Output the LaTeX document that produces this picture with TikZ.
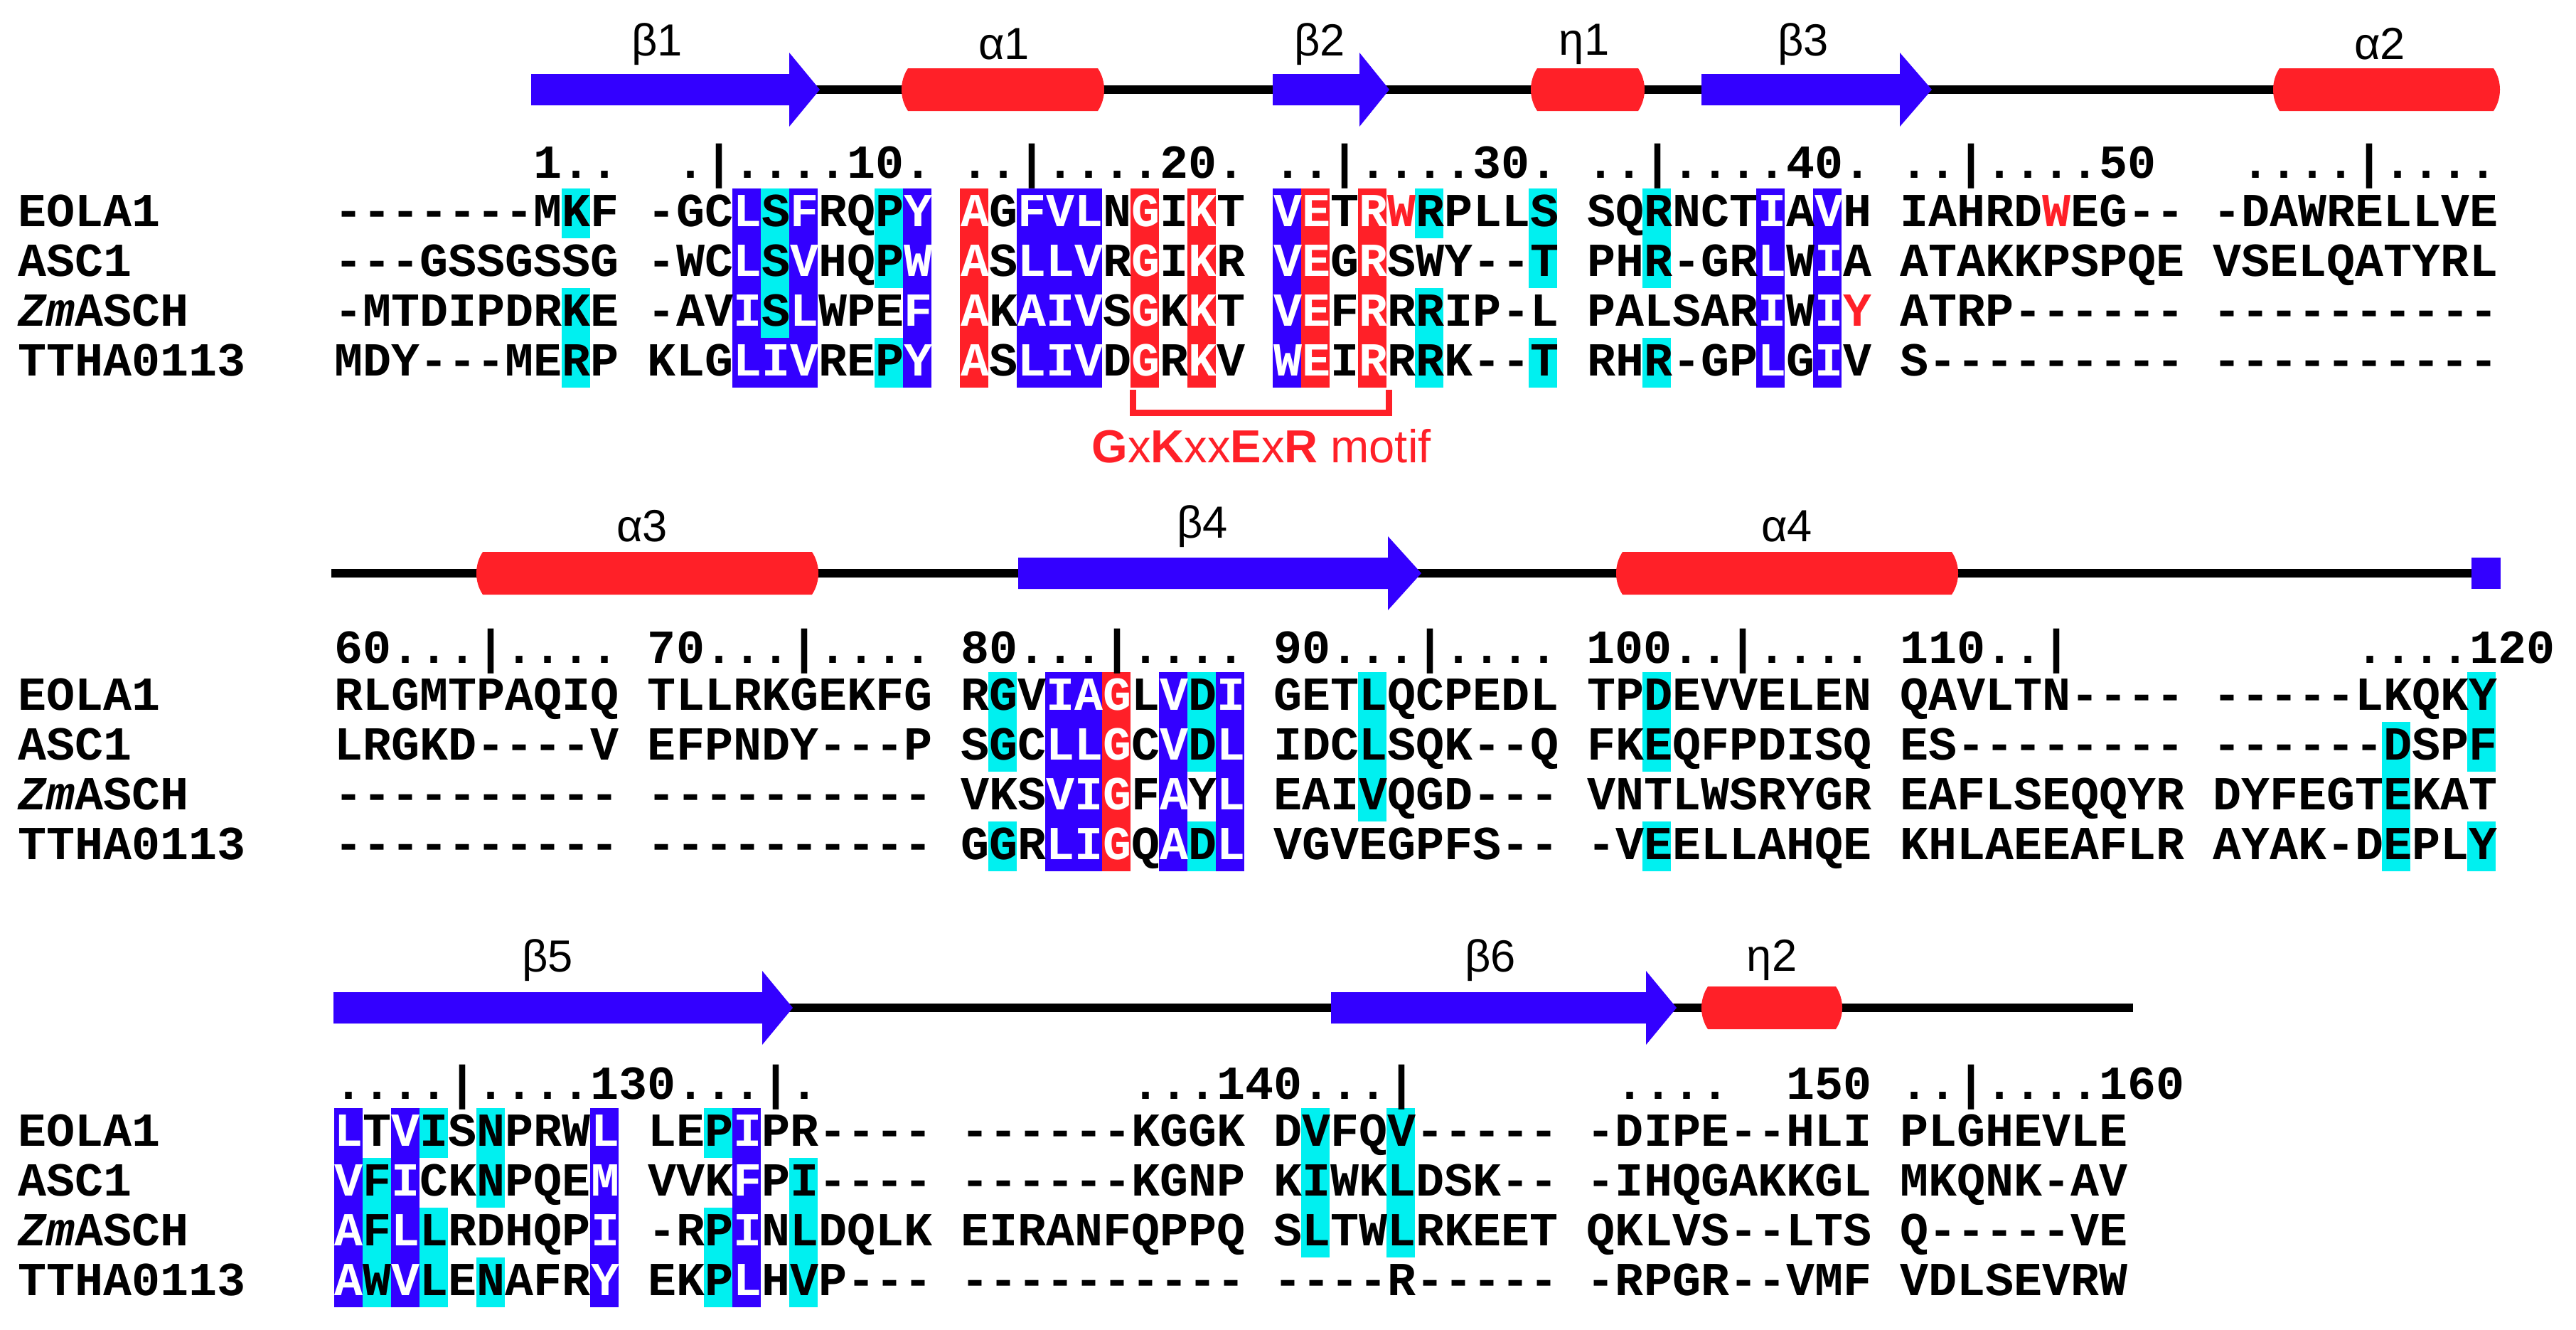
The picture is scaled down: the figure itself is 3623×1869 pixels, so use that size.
\documentclass[tikz,border=0pt]{standalone}
\usepackage{fontspec}
\setmainfont{Liberation Sans}
\newfontfamily\seqfont{Liberation Mono}[BoldFont={Liberation Mono Bold},BoldItalicFont={Liberation Mono Bold Italic}]
\definecolor{sblue}{RGB}{51,0,255}
\definecolor{sred}{RGB}{255,32,40}
\definecolor{scyan}{RGB}{0,240,240}
\newcommand\w[1]{\textcolor{white}{#1}}
\newcommand\rr[1]{\textcolor{sred}{#1}}
\newcommand\s{\hphantom{0}}
% box: col, row from, row to, colour, section centre
\newcommand\bx[5]{\fill[#4] ({470+#1*40},{#5+(#2)*70-35}) rectangle ({510+#1*40},{#5+(#3)*70+35});}
\newcommand\strand[5]{\fill[sblue] (#1,#4-22) -- (#2,#4-22) -- (#2,#4-52) -- (#3,#4) -- (#2,#4+52) -- (#2,#4+22) -- (#1,#4+22) -- cycle;
  \coordinate (#5) at ({(#1+#3)/2},#4);}
\newcommand\helix[3]{\fill[sred] (#1+8,#3-30) -- (#2-8,#3-30) .. controls (#2+4,#3-12) and (#2+4,#3+12) .. (#2-8,#3+30) -- (#1+8,#3+30) .. controls (#1-4,#3+12) and (#1-4,#3-12) .. (#1+8,#3-30) -- cycle;}
\begin{document}
\begin{tikzpicture}[x=0.01cm,y=-0.01cm,
  seq/.style={anchor=base west, inner sep=0, font=\seqfont\bfseries\fontsize{18.97pt}{20pt}\selectfont},
  sstext/.style={font=\fontsize{18pt}{20pt}\selectfont, inner sep=0},
  bb/.style={line width=0.12cm, black}]
\useasboundingbox (0,0) rectangle (3623,1869);
% ---------- secondary structure
\draw[bb] (747,126) -- (3510,126);
\strand{747}{1110}{1153}{126}{b1}
\helix{1269}{1552}{126}
\strand{1790}{1912}{1954}{126}{b2}
\helix{2154}{2312}{126}
\strand{2393}{2672}{2717}{126}{b3}
\helix{3198}{3515}{126}
\node[sstext] (lb1) at (924,62) {β1};
\node[sstext] (la1) at (1412,62) {α1};
\node[sstext] (lb2) at (1856,62) {β2};
\node[sstext] (le1) at (2228,62) {η1};
\node[sstext] (lb3) at (2536,62) {β3};
\node[sstext] (la2) at (3347,62) {α2};

\draw[bb] (466,806) -- (3480,806);
\helix{671}{1150}{806}
\strand{1432}{1952}{1999}{806}{b4}
\helix{2274}{2753}{806}
\fill[sblue] (3476,784) rectangle (3517,828);
\node[sstext] (la3) at (903,740) {α3};
\node[sstext] (lb4) at (1691,740) {β4};
\node[sstext] (la4) at (2513,740) {α4};

\draw[bb] (469,1417) -- (3000,1417);
\strand{469}{1072}{1115}{1417}{b5}
\strand{1872}{2315}{2358}{1417}{b6}
\helix{2394}{2590}{1417}
\node[sstext] (lb5) at (770,1350) {β5};
\node[sstext] (lb6) at (2096,1350) {β6};
\node[sstext] (le2) at (2492,1350) {η2};

% ---------- section A boxes (centre 300)
\def\cA{300}
\bx{8}{0}{0}{scyan}{\cA}\bx{8}{2}{3}{scyan}{\cA}
\bx{14}{0}{3}{sblue}{\cA}
\bx{15}{0}{2}{scyan}{\cA}\bx{15}{3}{3}{sblue}{\cA}
\bx{16}{0}{3}{sblue}{\cA}
\bx{19}{0}{1}{scyan}{\cA}\bx{19}{3}{3}{scyan}{\cA}
\bx{20}{0}{3}{sblue}{\cA}
\bx{22}{0}{3}{sred}{\cA}
\bx{24}{0}{3}{sblue}{\cA}\bx{25}{0}{3}{sblue}{\cA}\bx{26}{0}{3}{sblue}{\cA}
\bx{28}{0}{3}{sred}{\cA}
\bx{30}{0}{3}{sred}{\cA}
\bx{33}{0}{3}{sblue}{\cA}
\bx{34}{0}{3}{sred}{\cA}
\bx{36}{0}{3}{sred}{\cA}
\bx{38}{0}{0}{scyan}{\cA}\bx{38}{2}{3}{scyan}{\cA}
\bx{42}{0}{1}{scyan}{\cA}\bx{42}{3}{3}{scyan}{\cA}
\bx{46}{0}{1}{scyan}{\cA}\bx{46}{3}{3}{scyan}{\cA}
\bx{50}{0}{3}{sblue}{\cA}
\bx{52}{0}{3}{sblue}{\cA}

\node[seq] (rA) at (470,250) {\s\s\s\s\s\s\s1..\s\s.|....10.\s..|....20.\s..|....30.\s..|....40.\s..|....50\s\s\s....|....};
\node[seq] (nA0) at (25,318) {EOLA1};
\node[seq] (nA1) at (25,388) {ASC1};
\node[seq] (nA2) at (25,458) {\textit{Zm}ASCH};
\node[seq] (nA3) at (25,528) {TTHA0113};
\node[seq] (sA0) at (470,318) {-------MKF -GC\w{L}S\w{F}RQP\w{Y} \w{A}G\w{FVL}N\w{G}I\w{K}T \w{VE}T\w{R}\rr{W}RPLLS SQRNCT\w{I}A\w{V}H IAHRD\rr{W}EG-- -DAWRELLVE};
\node[seq] (sA1) at (470,388) {---GSSGSSG -WC\w{L}S\w{V}HQP\w{W} \w{A}S\w{LLV}R\w{G}I\w{K}R \w{VE}G\w{R}SWY--T PHR-GR\w{L}W\w{I}A ATAKKPSPQE VSELQATYRL};
\node[seq] (sA2) at (470,458) {-MTDIPDRKE -AV\w{I}S\w{L}WPE\w{F} \w{A}K\w{AIV}S\w{G}K\w{K}T \w{VE}F\w{R}RRIP-L PALSAR\w{I}W\w{I}\rr{Y} ATRP------ ----------};
\node[seq] (sA3) at (470,528) {MDY---MERP KLG\w{LIV}REP\w{Y} \w{A}S\w{LIV}D\w{G}R\w{K}V \w{WE}I\w{R}RRK--T RHR-GP\w{L}G\w{I}V S--------- ----------};

% motif bracket
\coordinate (m1) at (1593,548);
\coordinate (m2) at (1953,548);
\draw[sred, line width=0.09cm] (m1) -- ++(0,32) -| (m2);
\node[text=sred, font=\fontsize{18.5pt}{20pt}\selectfont, inner sep=0] (motif) at (1774,627) {\textbf{G}x\textbf{K}xx\textbf{E}x\textbf{R} motif};

% ---------- section B (centre 980)
\def\cB{980}
\bx{23}{0}{1}{scyan}{\cB}\bx{23}{3}{3}{scyan}{\cB}
\bx{25}{0}{3}{sblue}{\cB}\bx{26}{0}{3}{sblue}{\cB}
\bx{27}{0}{3}{sred}{\cB}
\bx{29}{0}{3}{sblue}{\cB}
\bx{30}{0}{1}{scyan}{\cB}\bx{30}{3}{3}{scyan}{\cB}
\bx{31}{0}{3}{sblue}{\cB}
\bx{36}{0}{2}{scyan}{\cB}
\bx{46}{0}{1}{scyan}{\cB}\bx{46}{3}{3}{scyan}{\cB}
\bx{72}{1}{3}{scyan}{\cB}
\bx{75}{0}{1}{scyan}{\cB}\bx{75}{3}{3}{scyan}{\cB}

\node[seq] (rB) at (470,932) {60...|....\s70...|....\s80...|....\s90...|....\s100..|....\s110..|\s\s\s\s\s\s\s\s\s\s....120};
\node[seq] (nB0) at (25,998) {EOLA1};
\node[seq] (nB1) at (25,1068) {ASC1};
\node[seq] (nB2) at (25,1138) {\textit{Zm}ASCH};
\node[seq] (nB3) at (25,1208) {TTHA0113};
\node[seq] (sB0) at (470,998) {RLGMTPAQIQ TLLRKGEKFG RGV\w{IAG}L\w{V}D\w{I} GETLQCPEDL TPDEVVELEN QAVLTN---- -----LKQKY};
\node[seq] (sB1) at (470,1068) {LRGKD----V EFPNDY---P SGC\w{LLG}C\w{V}D\w{L} IDCLSQK--Q FKEQFPDISQ ES-------- ------DSPF};
\node[seq] (sB2) at (470,1138) {---------- ---------- VKS\w{VIG}F\w{A}Y\w{L} EAIVQGD--- VNTLWSRYGR EAFLSEQQYR DYFEGTEKAT};
\node[seq] (sB3) at (470,1208) {---------- ---------- GGR\w{LIG}Q\w{A}D\w{L} VGVEGPFS-- -VEELLAHQE KHLAEEAFLR AYAK-DEPLY};

% ---------- section C (centre 1593)
\def\cC{1593}
\bx{0}{0}{3}{sblue}{\cC}
\bx{1}{1}{3}{scyan}{\cC}
\bx{2}{0}{3}{sblue}{\cC}
\bx{3}{0}{0}{scyan}{\cC}\bx{3}{2}{3}{scyan}{\cC}
\bx{5}{0}{1}{scyan}{\cC}\bx{5}{3}{3}{scyan}{\cC}
\bx{9}{0}{3}{sblue}{\cC}
\bx{13}{0}{0}{scyan}{\cC}\bx{13}{2}{3}{scyan}{\cC}
\bx{14}{0}{3}{sblue}{\cC}
\bx{16}{1}{3}{scyan}{\cC}
\bx{34}{0}{2}{scyan}{\cC}
\bx{37}{0}{2}{scyan}{\cC}

\node[seq] (rC) at (470,1545) {....|....130...|.\s\s\s\s\s\s\s\s\s\s\s...140...|\s\s\s\s\s\s\s....\s\s150\s..|....160};
\node[seq] (nC0) at (25,1611) {EOLA1};
\node[seq] (nC1) at (25,1681) {ASC1};
\node[seq] (nC2) at (25,1751) {\textit{Zm}ASCH};
\node[seq] (nC3) at (25,1821) {TTHA0113};
\node[seq] (sC0) at (470,1611) {\w{L}T\w{V}ISNPRW\w{L} LEP\w{I}PR---- ------KGGK DVFQV----- -DIPE--HLI PLGHEVLE};
\node[seq] (sC1) at (470,1681) {\w{V}F\w{I}CKNPQE\w{M} VVK\w{F}PI---- ------KGNP KIWKLDSK-- -IHQGAKKGL MKQNK-AV};
\node[seq] (sC2) at (470,1751) {\w{A}F\w{L}LRDHQP\w{I} -RP\w{I}NLDQLK EIRANFQPPQ SLTWLRKEET QKLVS--LTS Q-----VE};
\node[seq] (sC3) at (470,1821) {\w{A}W\w{V}LENAFR\w{Y} EKP\w{L}HVP--- ---------- ----R----- -RPGR--VMF VDLSEVRW};
\end{tikzpicture}
\end{document}
